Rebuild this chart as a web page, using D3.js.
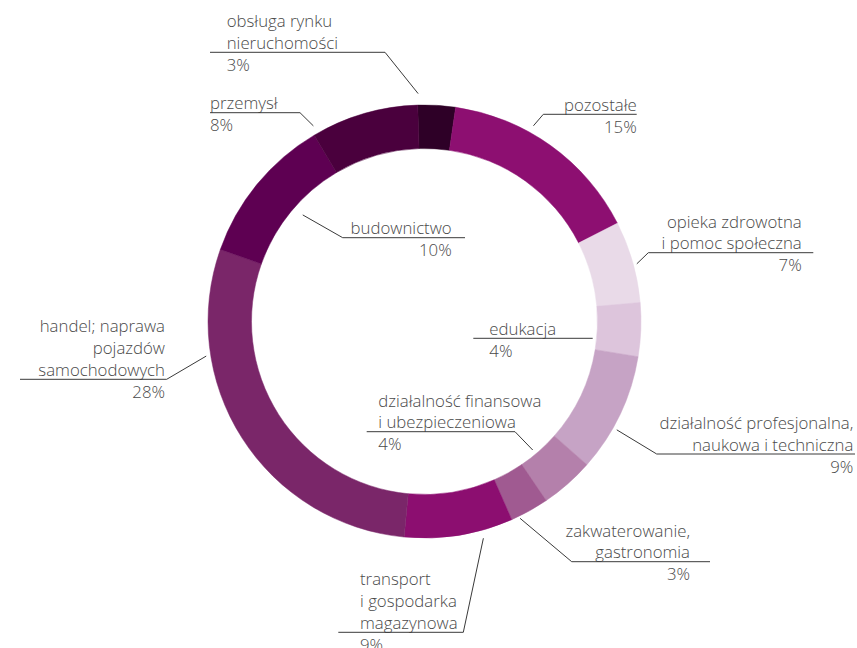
<!DOCTYPE html>
<html>
<head>
<meta charset="utf-8">
<script src="https://cdn.jsdelivr.net/npm/d3@7"></script>
<style>
  html, body { margin: 0; padding: 0; background: #fff; }
  svg { display: block; }
  text { font-family: "Open Sans", "Lato", sans-serif; font-weight: 300; fill: #4a4a4a; }
</style>
</head>
<body>
<svg id="chart" width="857" height="648"></svg>
<script>
// ---- data (clockwise from the top) ----
const categories = [
  "obsługa rynku nieruchomości",
  "pozostałe",
  "opieka zdrowotna i pomoc społeczna",
  "edukacja",
  "działalność profesjonalna, naukowa i techniczna",
  "działalność finansowa i ubezpieczeniowa",
  "zakwaterowanie, gastronomia",
  "transport i gospodarka magazynowa",
  "handel; naprawa pojazdów samochodowych",
  "budownictwo",
  "przemysł"
];
const labelLines = [
  ["obsługa rynku", "nieruchomości"],
  ["pozostałe"],
  ["opieka zdrowotna", "i pomoc społeczna"],
  ["edukacja"],
  ["działalność profesjonalna,", "naukowa i techniczna"],
  ["działalność finansowa", "i ubezpieczeniowa"],
  ["zakwaterowanie,", "gastronomia"],
  ["transport", "i gospodarka", "magazynowa"],
  ["handel; naprawa", "pojazdów", "samochodowych"],
  ["budownictwo"],
  ["przemysł"]
];
// shares as drawn (percent)
const values = [2.8, 15.2, 6.1, 4.0, 8.9, 4.0, 2.9, 8.1, 28.9, 11.1, 8.0];
// printed labels
const pctLabels = ["3%", "15%", "7%", "4%", "9%", "4%", "3%", "9%", "28%", "10%", "8%"];
const colors = ["#2e0027", "#8d0f71", "#e9dae8", "#ddc5dc", "#c6a3c5", "#b480ab",
                "#a05a91", "#8c0e70", "url(#handelGrad)", "#5e0052", "#4a003d"];

// ---- label layout (annotation positions) ----
const labelLayout = [
  {tx: 226.7, anchor: "start", uy: 52.3,  ux1: 210,   ux2: 385,   elbow: "right", ang: -1.6,  rad: 228},
  {tx: 636.7, anchor: "end",   uy: 114.3, ux1: 543.3, ux2: 636.7, elbow: "left",  ang: 29.1,  rad: 224},
  {tx: 801.7, anchor: "end",   uy: 252.7, ux1: 648.3, ux2: 813.3, elbow: "left",  ang: 74.8,  rad: 220},
  {tx: 489.3, anchor: "start", uy: 338.3, ux1: 473.3, ux2: 592.7, elbow: null},
  {tx: 853.3, anchor: "end",   uy: 454,   ux1: 656.7, ux2: 855,   elbow: "left",  ang: 119.4, rad: 220.7},
  {tx: 378.3, anchor: "start", uy: 431.7, ux1: 366.7, ux2: 515,   elbow: "right", ang: 139.9, rad: 168},
  {tx: 690,   anchor: "end",   uy: 561.7, ux1: 571.7, ux2: 710,   elbow: "left",  ang: 154.1, rad: 218.8},
  {tx: 360,   anchor: "start", uy: 632.3, ux1: 338.3, ux2: 463.3, elbow: "right", ang: 164.8, rad: 224.6},
  {tx: 165,   anchor: "end",   uy: 379.3, ux1: 20,    ux2: 166.7, elbow: "right", ang: 261,   rad: 221},
  {tx: 451.7, anchor: "end",   uy: 237.7, ux1: 342.7, ux2: 465,   elbow: "left",  ang: 311.2, rad: 161.8},
  {tx: 210,   anchor: "start", uy: 112.7, ux1: 210,   ux2: 300,   elbow: "right", ang: 330.4, rad: 225}
];

const cx = 424.5, cy = 321.5, outerR = 216.5, innerR = 173;
const startDeg = -1.8;
const lineH = 21.7;
const fontSize = 16.8;

const svg = d3.select("#chart");
const defs = svg.append("defs");
const grad = defs.append("linearGradient")
  .attr("id", "handelGrad").attr("gradientUnits", "userSpaceOnUse")
  .attr("x1", 250).attr("y1", 390).attr("x2", 400).attr("y2", 520);
grad.append("stop").attr("offset", "0%").attr("stop-color", "#7a2669");
grad.append("stop").attr("offset", "100%").attr("stop-color", "#640052");

const data = categories.map((c, i) => ({name: c, value: values[i], color: colors[i], i}));
const rad = d => d * Math.PI / 180;
const pie = d3.pie().sort(null).value(d => d.value)
  .startAngle(rad(startDeg)).endAngle(rad(startDeg + 360));
const arc = d3.arc().innerRadius(innerR).outerRadius(outerR);

const g = svg.append("g").attr("transform", `translate(${cx},${cy})`);
g.selectAll("path.slice").data(pie(data)).join("path")
  .attr("class", "slice")
  .attr("d", arc)
  .attr("fill", d => d.data.color)
  .attr("stroke", d => d.data.color)
  .attr("stroke-width", 0.5);

// ---- labels ----
const lab = svg.append("g");
labelLayout.forEach((L, i) => {
  const lines = labelLines[i];
  const n = lines.length;
  const t = lab.append("text")
    .attr("text-anchor", L.anchor)
    .attr("font-size", fontSize);
  lines.forEach((ln, k) => {
    t.append("tspan").attr("x", L.tx)
      .attr("y", L.uy - 3.5 - (n - 1 - k) * lineH)
      .text(ln);
  });
  lab.append("text")
    .attr("text-anchor", L.anchor)
    .attr("font-size", fontSize)
    .attr("x", L.tx).attr("y", L.uy + 18.5)
    .text(pctLabels[i]);

  const pts = [];
  if (L.elbow) {
    const a = rad(L.ang);
    const ex = cx + L.rad * Math.sin(a), ey = cy - L.rad * Math.cos(a);
    if (L.elbow === "right") pts.push([L.ux1, L.uy], [L.ux2, L.uy], [ex, ey]);
    else pts.push([L.ux2, L.uy], [L.ux1, L.uy], [ex, ey]);
  } else {
    pts.push([L.ux1, L.uy], [L.ux2, L.uy]);
  }
  lab.append("path")
    .attr("d", d3.line()(pts))
    .attr("fill", "none")
    .attr("stroke", "#3a3a3a")
    .attr("stroke-width", 1);
});
</script>
</body>
</html>
